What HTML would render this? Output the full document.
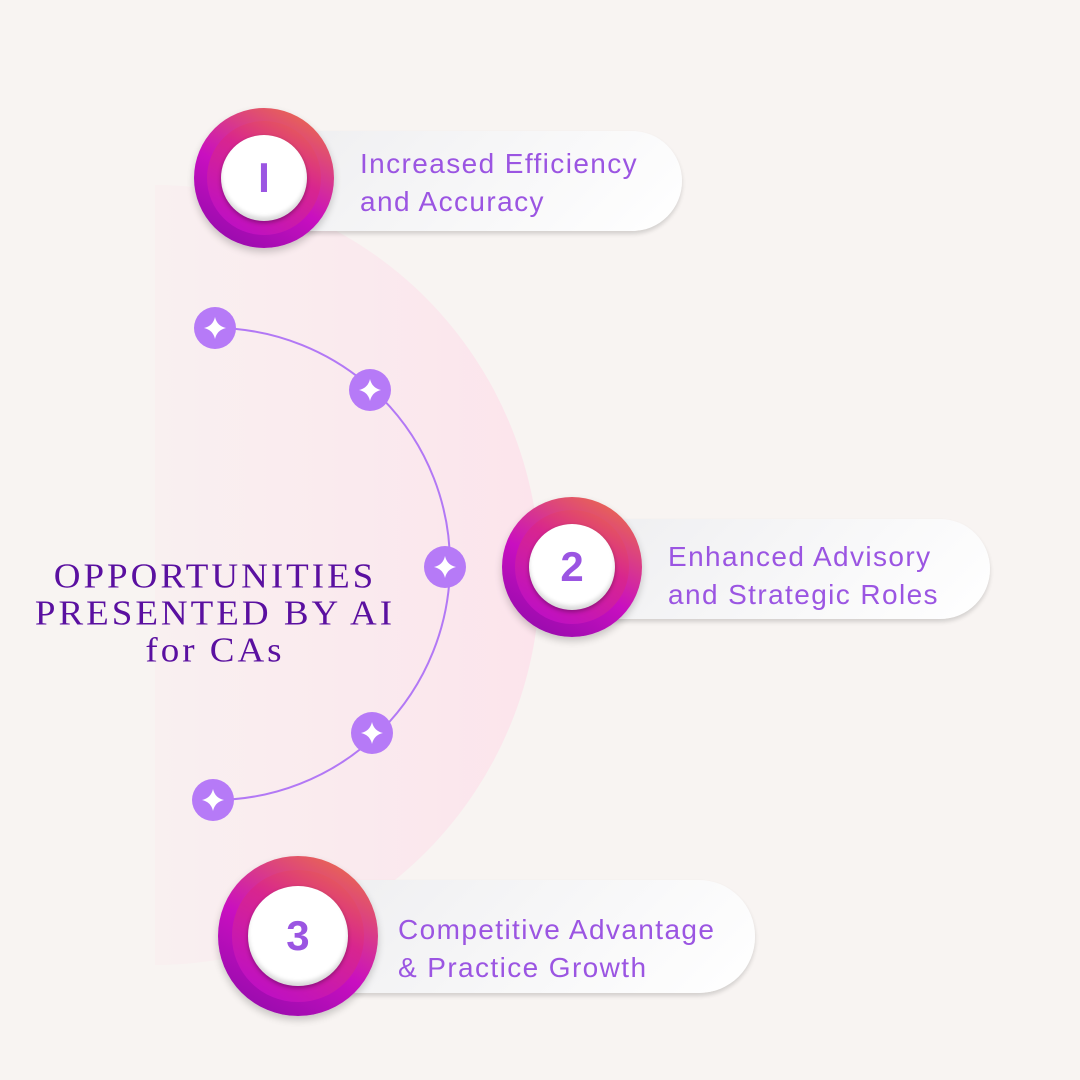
<!DOCTYPE html>
<html><head><style>
body{margin:0;width:1080px;height:1080px;background:#f8f4f2;overflow:hidden;position:relative;font-family:"Liberation Sans",sans-serif}
.pill{position:absolute;background:linear-gradient(135deg,#eeeef0,#ffffff);border-radius:0 50px 50px 0;box-shadow:0 3px 4px rgba(0,0,0,0.15)}
.t{position:absolute;color:#9b55e2;font-size:28px;line-height:38px;letter-spacing:1.4px;white-space:nowrap}
.badge{position:absolute;width:140px;height:140px;border-radius:50%;background:linear-gradient(30deg,#8a0aa8,#c90fc0 45%,#f07a3a);box-shadow:0 4px 8px rgba(0,0,0,0.2)}
.badge .ring{position:absolute;left:9%;top:9%;width:82%;height:82%;border-radius:50%;background:linear-gradient(30deg,#b80ad0,#d8258f 60%,#ea6a4a)}
.badge .in{position:absolute;left:19%;top:19%;width:62%;height:62%;border-radius:50%;background:#fff;box-shadow:inset 0 -4px 4px rgba(0,0,0,0.15),0 2px 4px rgba(0,0,0,0.3);display:flex;align-items:center;justify-content:center;color:#9b55e2;font-size:42px;font-weight:bold}
</style></head><body>
<svg width="1080" height="1080" style="position:absolute;left:0;top:0">
<defs><linearGradient id="pg" x1="0" x2="1"><stop offset="0" stop-color="#fbe6ec" stop-opacity="0.3"/><stop offset="1" stop-color="#fce4ec"/></linearGradient></defs>
<path d="M155 185 A385 390 0 0 1 155 965 Z" fill="url(#pg)"/>
<path d="M215 328 A236 236 0 0 1 213 800" fill="none" stroke="#b278f5" stroke-width="2"/>
<g fill="#b67af7">
<circle cx="215" cy="328" r="21"/><circle cx="370" cy="390" r="21"/><circle cx="445" cy="567" r="21"/><circle cx="372" cy="733" r="21"/><circle cx="213" cy="800" r="21"/>
</g>
<g fill="#fff">
<path id="s" d="M0 -11 Q2 -2 11 0 Q2 2 0 11 Q-2 2 -11 0 Q-2 -2 0 -11Z" transform="translate(215 328)"/>
<use href="#s" transform="translate(155 62)"/><use href="#s" transform="translate(230 239)"/><use href="#s" transform="translate(157 405)"/><use href="#s" transform="translate(-2 472)"/>
</g>
</svg>
<div style="position:absolute;left:0;top:555px;width:430px;text-align:center;font-family:'Liberation Serif',serif;color:#5a10a0;font-size:37px;line-height:39px;letter-spacing:3px;transform:scaleY(0.95)">OPPORTUNITIES<br>PRESENTED BY AI<br>for CAs</div>
<div class="pill" style="left:262px;top:131px;width:420px;height:100px"></div>
<div class="t" style="left:360px;top:145px">Increased Efficiency<br>and Accuracy</div>
<div class="badge" style="left:194px;top:108px"><div class="ring"></div><div class="in">I</div></div>
<div class="pill" style="left:572px;top:519px;width:418px;height:100px"></div>
<div class="t" style="left:668px;top:538px">Enhanced Advisory<br>and Strategic Roles</div>
<div class="badge" style="left:502px;top:497px"><div class="ring"></div><div class="in">2</div></div>
<div class="pill" style="left:300px;top:880px;width:455px;height:113px;border-radius:0 56px 56px 0"></div>
<div class="t" style="left:398px;top:911px">Competitive Advantage<br>&amp; Practice Growth</div>
<div class="badge" style="left:218px;top:856px;width:160px;height:160px"><div class="ring"></div><div class="in">3</div></div>
</body></html>
